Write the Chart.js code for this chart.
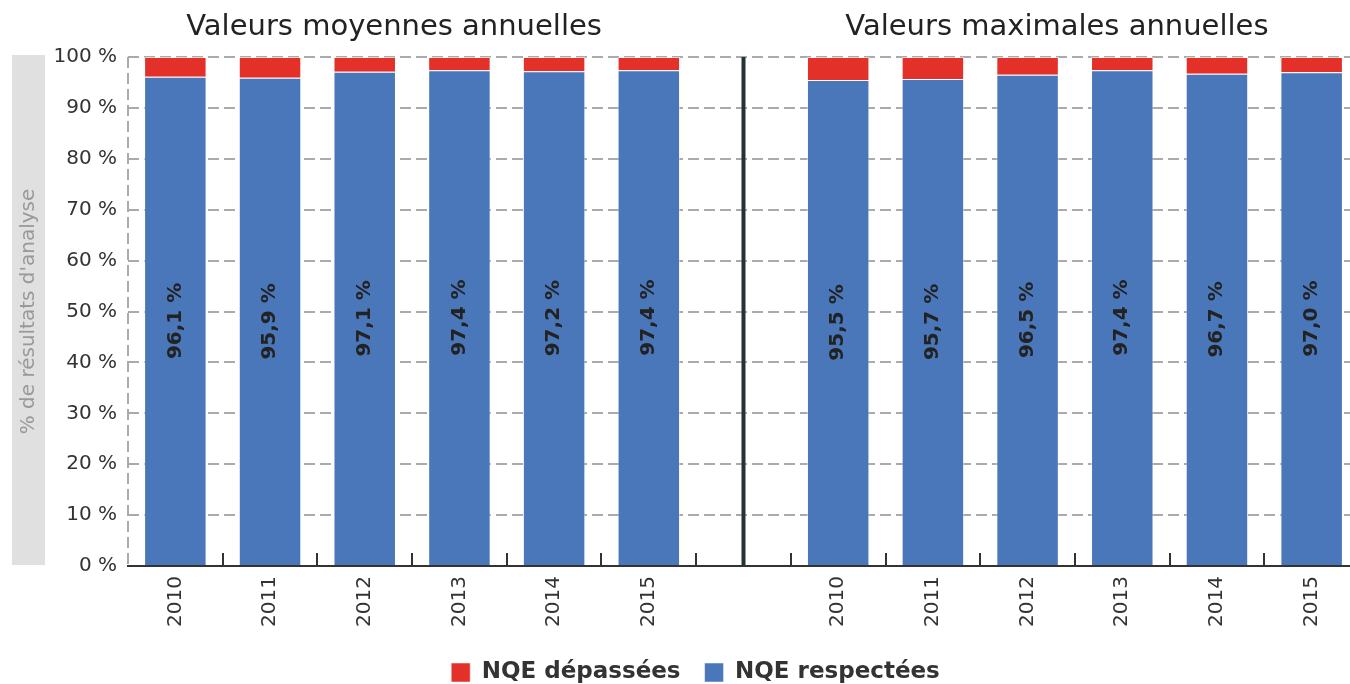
<!DOCTYPE html>
<html>
<head>
<meta charset="utf-8">
<script src="https://cdn.jsdelivr.net/npm/chart.js@4.4.1/dist/chart.umd.min.js"></script>
<style>
  body { margin: 0; overflow: hidden; background: #fff; }
  #wrap { position: absolute; left: 0; top: 0; width: 1362px; height: 684px; }
</style>
</head>
<body>
<div id="wrap"><canvas id="nqeChart"></canvas></div>
<script>
// categories: two groups of years separated by an empty slot
const years = ['2010', '2011', '2012', '2013', '2014', '2015'];
const categories = years.concat([''], years);
const groupTitles = ['Valeurs moyennes annuelles', 'Valeurs maximales annuelles'];

// % of analysis results
const respecteesMoy = [96.1, 95.9, 97.1, 97.4, 97.2, 97.4];
const respecteesMax = [95.5, 95.7, 96.5, 97.4, 96.7, 97.0];
const depasseesMoy = [3.9, 4.1, 2.9, 2.6, 2.8, 2.6];
const depasseesMax = [4.5, 4.3, 3.5, 2.6, 3.3, 3.0];

const yTicks = [0, 10, 20, 30, 40, 50, 60, 70, 80, 90, 100];

const respectees = respecteesMoy.concat([null], respecteesMax);
const depassees = depasseesMoy.concat([null], depasseesMax);

const FONT = "'DejaVu Sans', Verdana, sans-serif";

const extras = {
    id: 'extras',
    beforeDraw(chart) {
        const ctx = chart.ctx;
        const area = chart.chartArea;
        ctx.save();
        // y axis title band
        ctx.fillStyle = '#e0e0e0';
        ctx.fillRect(12, 55, 33, 510);
        ctx.translate(29, (area.top + area.bottom) / 2);
        ctx.rotate(-Math.PI / 2);
        ctx.fillStyle = '#999';
        ctx.font = '20px ' + FONT;
        ctx.textAlign = 'center';
        ctx.textBaseline = 'middle';
        ctx.fillText("% de résultats d'analyse", 0, 0);
        ctx.restore();
    },
    afterDraw(chart) {
        const ctx = chart.ctx;
        const area = chart.chartArea;
        const x = chart.scales.x;
        const w = x.getPixelForValue(1) - x.getPixelForValue(0);
        ctx.save();
        // dashed left border
        ctx.strokeStyle = '#aaa';
        ctx.lineWidth = 2;
        ctx.setLineDash([11, 5]);
        ctx.beginPath();
        ctx.moveTo(area.left, area.top);
        ctx.lineTo(area.left, area.bottom);
        ctx.stroke();
        ctx.setLineDash([]);
        // ticks between categories, inside the plot
        ctx.strokeStyle = '#333';
        for (let i = 1; i < categories.length; i++) {
            const px = Math.round(x.getPixelForValue(0) - w / 2 + i * w);
            ctx.beginPath();
            ctx.moveTo(px, area.bottom - 13);
            ctx.lineTo(px, area.bottom);
            ctx.stroke();
        }
        // separator between the two groups
        const sx = x.getPixelForValue(6);
        ctx.strokeStyle = '#263238';
        ctx.lineWidth = 4;
        ctx.beginPath();
        ctx.moveTo(sx, area.top);
        ctx.lineTo(sx, area.bottom);
        ctx.stroke();
        // group titles
        ctx.fillStyle = '#222';
        ctx.font = '29px ' + FONT;
        ctx.textAlign = 'center';
        ctx.textBaseline = 'middle';
        const c1 = (x.getPixelForValue(0) + x.getPixelForValue(5)) / 2 - 18;
        const c2 = (x.getPixelForValue(7) + x.getPixelForValue(12)) / 2 - 18;
        ctx.fillText(groupTitles[0], c1, 27);
        ctx.fillText(groupTitles[1], c2, 27);
        // value labels in the blue bars
        const meta = chart.getDatasetMeta(0);
        ctx.fillStyle = '#222';
        ctx.font = 'bold 20px ' + FONT;
        meta.data.forEach((bar, i) => {
            const v = respectees[i];
            if (v == null) return;
            ctx.save();
            ctx.translate(bar.x, (bar.y + bar.base) / 2);
            ctx.rotate(-Math.PI / 2);
            ctx.fillText(v.toFixed(1).replace('.', ',') + ' %', 0, 0);
            ctx.restore();
        });
        ctx.restore();
    }
};

const ctx = document.getElementById('nqeChart').getContext('2d');
const nqeChart = new Chart(ctx, {
    type: 'bar',
    data: {
        labels: categories,
        datasets: [{
            label: 'NQE respectées',
            data: respectees,
            backgroundColor: '#4a77b9',
            borderColor: 'rgba(255,255,255,0.5)',
            borderWidth: 1,
            barPercentage: 0.66,
            categoryPercentage: 1
        }, {
            label: 'NQE dépassées',
            data: depassees,
            backgroundColor: '#e3312a',
            borderColor: 'rgba(255,255,255,0.5)',
            borderWidth: 1,
            barPercentage: 0.66,
            categoryPercentage: 1
        }]
    },
    options: {
        responsive: true,
        maintainAspectRatio: false,
        animation: false,
        layout: {
            padding: { top: 57, left: 32, right: 3, bottom: -10 }
        },
        scales: {
            x: {
                stacked: true,
                grid: { display: false, drawTicks: false },
                border: { color: '#333', width: 2 },
                ticks: {
                    autoSkip: false,
                    maxRotation: 90,
                    minRotation: 90,
                    padding: 10,
                    color: '#333',
                    font: { family: FONT, size: 20 }
                },
                afterFit(scale) { scale.height = 71; }
            },
            y: {
                stacked: true,
                min: 0,
                max: 100,
                afterBuildTicks(scale) {
                    scale.ticks = yTicks.map(v => ({ value: v }));
                },
                grid: { color: '#aaa', lineWidth: 2, drawTicks: false },
                border: { display: false, dash: [11, 5] },
                ticks: {
                    padding: 11,
                    color: '#333',
                    font: { family: FONT, size: 20 },
                    callback: v => v + ' %'
                },
                afterFit(scale) { scale.width = 96; }
            }
        },
        plugins: {
            legend: {
                position: 'bottom',
                reverse: true,
                labels: {
                    boxWidth: 19,
                    boxHeight: 19,
                    padding: 24,
                    color: '#333',
                    font: { family: FONT, size: 23, weight: 'bold' }
                }
            },
            tooltip: { enabled: false }
        }
    },
    plugins: [extras]
});
</script>
</body>
</html>
